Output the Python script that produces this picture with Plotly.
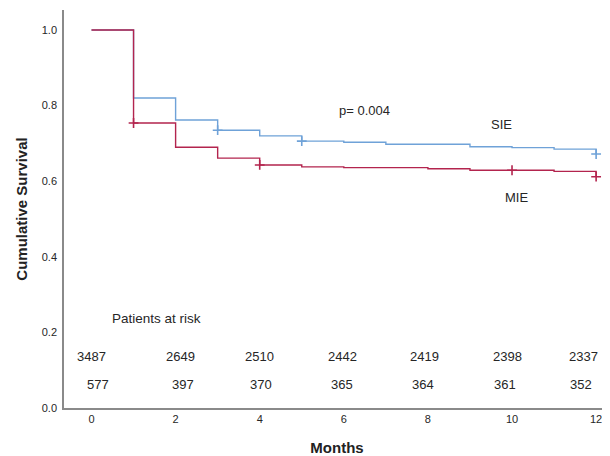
import plotly.graph_objects as go

# ---- data ----
months = [0, 1, 2, 3, 4, 5, 6, 7, 8, 9, 10, 11, 12]
sie_surv = [1.0, 0.820, 0.762, 0.735, 0.720, 0.706, 0.703, 0.698, 0.698, 0.691, 0.689, 0.685, 0.672]
mie_surv = [1.0, 0.754, 0.690, 0.661, 0.643, 0.638, 0.636, 0.636, 0.633, 0.629, 0.629, 0.626, 0.612]
sie_censor = [3, 5, 12]
mie_censor = [1, 4, 10, 12]

risk_months = [0, 2, 4, 6, 8, 10, 12]
sie_at_risk = [3487, 2649, 2510, 2442, 2419, 2398, 2337]
mie_at_risk = [577, 397, 370, 365, 364, 361, 352]

x_ticks = [0, 2, 4, 6, 8, 10, 12]
y_ticks = [0.0, 0.2, 0.4, 0.6, 0.8, 1.0]

SIE_COLOR = "#6fa2d8"
MIE_COLOR = "#b3244e"
TXT = "#262626"
FONT = "Liberation Sans, Arial, sans-serif"

fig = go.Figure()

fig.add_trace(go.Scatter(x=months, y=sie_surv, mode="lines", line_shape="hv",
                         line=dict(color=SIE_COLOR, width=1.4), showlegend=False,
                         hoverinfo="skip"))
fig.add_trace(go.Scatter(x=sie_censor, y=[sie_surv[months.index(t)] for t in sie_censor],
                         mode="markers", marker=dict(symbol="cross-thin", size=7,
                         line=dict(color=SIE_COLOR, width=1.6)), showlegend=False))
fig.add_trace(go.Scatter(x=months, y=mie_surv, mode="lines", line_shape="hv",
                         line=dict(color=MIE_COLOR, width=1.4), showlegend=False,
                         hoverinfo="skip"))
fig.add_trace(go.Scatter(x=mie_censor, y=[mie_surv[months.index(t)] for t in mie_censor],
                         mode="markers", marker=dict(symbol="cross-thin", size=7,
                         line=dict(color=MIE_COLOR, width=1.6)), showlegend=False))

annotations = []
row1_shift = [0, 5, 0, -1, -3, -5, -13]
row2_shift = [6, 7, 1, -2, -5, -7, -15]
for i, m in enumerate(risk_months):
    annotations.append(dict(x=m, y=0.135, xref="x", yref="y", text=str(sie_at_risk[i]),
                            showarrow=False, xshift=row1_shift[i],
                            font=dict(size=13, color=TXT, family=FONT)))
    annotations.append(dict(x=m, y=0.061, xref="x", yref="y", text=str(mie_at_risk[i]),
                            showarrow=False, xshift=row2_shift[i],
                            font=dict(size=13, color=TXT, family=FONT)))
annotations.append(dict(x=0.45, y=0.238, xref="x", yref="y", text="Patients at risk",
                        showarrow=False, xanchor="left",
                        font=dict(size=13.5, color=TXT, family=FONT)))
annotations.append(dict(x=6.5, y=0.788, xref="x", yref="y", text="p= 0.004",
                        showarrow=False, font=dict(size=13, color=TXT, family=FONT)))
annotations.append(dict(x=9.75, y=0.749, xref="x", yref="y", text="SIE",
                        showarrow=False, font=dict(size=13, color=TXT, family=FONT)))
annotations.append(dict(x=10.1, y=0.556, xref="x", yref="y", text="MIE",
                        showarrow=False, font=dict(size=13, color=TXT, family=FONT)))

# page body has an 8px margin, so the figure is sized to fit the 610x456 window
fig.update_layout(
    width=602, height=448,
    margin=dict(l=56, r=0, t=2, b=48),
    plot_bgcolor="white", paper_bgcolor="white",
    font=dict(family=FONT, color=TXT),
    annotations=annotations,
    xaxis=dict(range=[-0.654, 12.33], tickvals=x_ticks, ticktext=[str(v) for v in x_ticks],
               showgrid=False, zeroline=False, showline=True, linecolor="#8a8a8a",
               linewidth=1.5, ticks="", tickfont=dict(size=11, color=TXT),
               title=dict(text="<b>Months</b>", font=dict(size=15, color="#222"), standoff=19)),
    yaxis=dict(range=[0, 1.053], tickvals=y_ticks, ticktext=[f"{v:.1f}" for v in y_ticks],
               showgrid=False, zeroline=False, showline=True, linecolor="#8a8a8a",
               linewidth=1.5, ticks="", ticklabelstandoff=3, tickfont=dict(size=11, color=TXT),
               title=dict(text="<b>Cumulative Survival</b>", font=dict(size=15, color="#222"),
                          standoff=11)),
)

fig.write_html("out.html")
